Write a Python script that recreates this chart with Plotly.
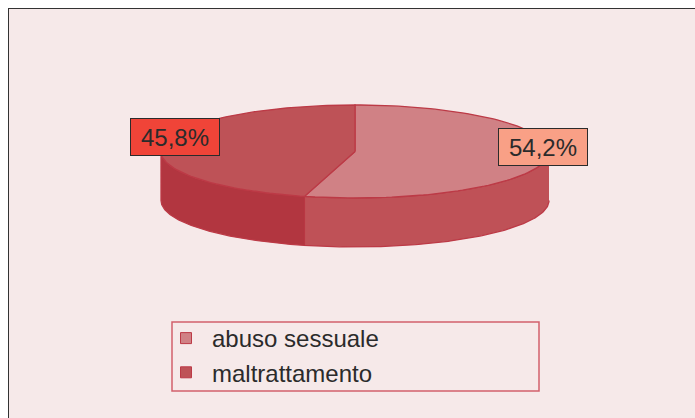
import math
import plotly.graph_objects as go

categories = ["abuso sessuale", "maltrattamento"]
values = [54.2, 45.8]
value_labels = ["54,2%", "45,8%"]

top_colors = ["#D08185", "#BE5257"]
wall_colors = ["#BF5157", "#B23640"]
edge_color = "#BC3A46"
label_fills = ["#F9A086", "#F04438"]
label_pos = [(543, 147), (175, 136.5)]

W, H = 695, 418
CX, CY, RX, RY, DEPTH = 355, 151.5, 194, 46.5, 49


def pt(theta, dy=0):
    return CX + RX * math.sin(theta), CY - RY * math.cos(theta) + dy


def arc(a, b, dy=0, n=120):
    return [pt(a + (b - a) * i / n, dy) for i in range(n + 1)]


fig = go.Figure()


def poly(points, fill):
    fig.add_trace(go.Scatter(
        x=[p[0] for p in points], y=[p[1] for p in points],
        mode="lines", fill="toself", fillcolor=fill,
        line=dict(color=edge_color, width=1.3),
        hoverinfo="skip", showlegend=False))


total = sum(values)
angles = [0]
for v in values:
    angles.append(angles[-1] + 2 * math.pi * v / total)

# outer wall, only the part facing the viewer
for i in range(len(values)):
    a = max(angles[i], math.pi / 2)
    b = min(angles[i + 1], 3 * math.pi / 2)
    if a < b:
        poly(arc(a, b) + arc(b, a, DEPTH), wall_colors[i])

# top face
for i in range(len(values)):
    poly([(CX, CY)] + arc(angles[i], angles[i + 1]) + [(CX, CY)], top_colors[i])

# legend entries
for name, col in zip(categories, top_colors):
    fig.add_trace(go.Scatter(
        x=[None], y=[None], mode="markers", name=name,
        marker=dict(symbol="square", size=11, color=col,
                    line=dict(color=edge_color, width=1))))

for txt, fill, (x, y) in zip(value_labels, label_fills, label_pos):
    fig.add_annotation(
        x=x, y=y, text=txt, showarrow=False, width=88, height=36,
        bgcolor=fill, bordercolor="#2b2b2b", borderwidth=1, borderpad=0,
        font=dict(family="Liberation Sans", size=24, color="#2b2b2b"))

# legend frame
fig.add_shape(type="rect", x0=172, x1=539, y0=322, y1=391,
              line=dict(color="#D2606C", width=1.5), fillcolor="rgba(0,0,0,0)")

fig.update_xaxes(range=[9, W], visible=True, showgrid=False, zeroline=False,
                 showticklabels=False, ticks="", side="top",
                 showline=True, linecolor="#333333", linewidth=1.2, fixedrange=True)
fig.update_yaxes(range=[H, 9], visible=True, showgrid=False, zeroline=False,
                 showticklabels=False, ticks="",
                 showline=True, linecolor="#333333", linewidth=1.2, fixedrange=True)

fig.update_layout(
    width=W, height=H,
    margin=dict(l=9, r=0, t=9, b=0, pad=0),
    paper_bgcolor="#FFFFFF", plot_bgcolor="#F6E9E9",
    font=dict(family="Liberation Sans", size=24, color="#2b2b2b"),
    legend=dict(
        x=(160 - 9) / (W - 9), y=1 - (316 - 9) / (H - 9),
        xanchor="left", yanchor="top", itemwidth=42,
        bgcolor="rgba(0,0,0,0)", borderwidth=0,
        font=dict(family="Liberation Sans", size=24, color="#2b2b2b")),
)

fig.write_html("out.html", config={"displayModeBar": False},
               post_script="document.body.style.margin='0';document.body.style.overflow='hidden';")
